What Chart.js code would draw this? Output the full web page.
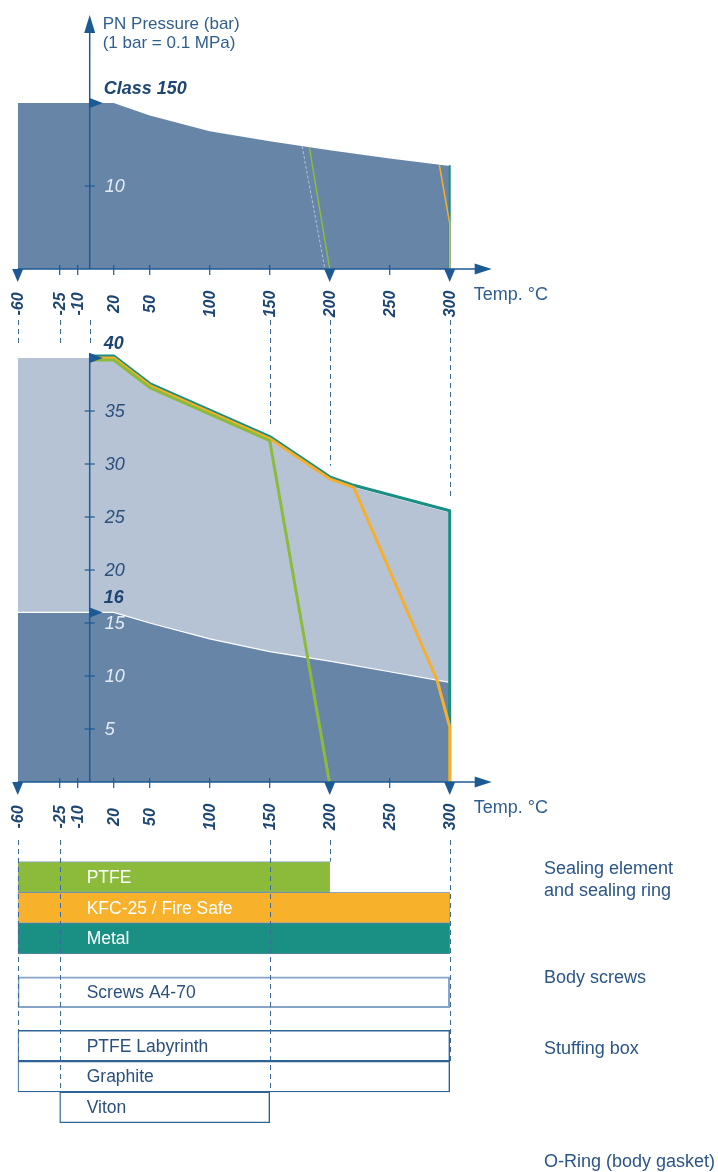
<!DOCTYPE html>
<html>
<head>
<meta charset="utf-8">
<script src="https://cdn.jsdelivr.net/npm/chart.js@4.4.1/dist/chart.umd.min.js"></script>
<style>
  html, body { margin: 0; padding: 0; background: #ffffff; }
  #wrap { position: relative; width: 718px; height: 1172px; overflow: hidden; }
  #c { position: absolute; left: 0; top: 0; }
  .grp { position: absolute; left: 544px; font-family: "Liberation Sans", Arial, sans-serif;
         font-size: 18px; line-height: 22px; color: #2b5587; white-space: nowrap; }
</style>
</head>
<body>
<div id="wrap">
  <canvas id="c" width="718" height="1172"></canvas>
  <div class="grp" id="g0" style="top:857px"></div>
  <div class="grp" id="g1" style="top:966px"></div>
  <div class="grp" id="g2" style="top:1037px"></div>
  <div class="grp" id="g3" style="top:1150px"></div>
</div>
<script>
// ---------------- DATA ----------------
const tempTicks   = [-60, -25, -10, 20, 50, 100, 150, 200, 250, 300];
const markedTemps = [-60, 200, 300];

// Class 150 rating (top chart)
const class150Temp = [-60, 20, 50, 100, 150, 200, 250, 300];
const class150Bar  = [20, 20, 18.5, 16.6, 15.4, 14.3, 13.3, 12.4];
const c150PtfeTemp  = [183, 200];
const c150PtfeBar   = [14.7, 0];
const c150GhostTemp = [177, 196];
const c150GhostBar  = [14.8, 0];
const c150KfcTemp   = [291.4, 300, 300];
const c150KfcBar    = [12.5, 5.5, 0];
const c150MetalTemp = [300, 300];
const c150MetalBar  = [12.4, 0];

// PN40 / PN16 ratings (middle chart)
const pn40Temp = [-60, 20, 50, 100, 150, 200, 220, 300];
const pn40Bar  = [40, 40, 37.4, 34.9, 32.4, 28.6, 27.8, 25.4];
const pn16Temp = [-60, 20, 50, 100, 150, 200, 250, 300];
const pn16Bar  = [16, 16, 15.0, 13.5, 12.3, 11.4, 10.4, 9.4];
const metalTemp = [0, 20, 50, 100, 150, 200, 220, 300, 300];
const metalBar  = [40, 40, 37.4, 34.9, 32.4, 28.6, 27.8, 25.4, 0];
const kfcTemp   = [0, 20, 50, 100, 150, 200, 220, 289.5, 300, 300];
const kfcBar    = [40, 40, 37.4, 34.9, 32.4, 28.6, 27.8, 9.6, 5.2, 0];
const ptfeTemp  = [0, 20, 50, 100, 150, 200];
const ptfeBar   = [40, 40, 37.4, 34.9, 32.4, 0];

const yTicksTop = [10];
const yTicksMid = [5, 10, 15, 20, 25, 30, 35];
const topMarker = { label: 'Class 150', value: 20 };
const midMarkers = [{ label: '40', value: 40 }, { label: '16', value: 16 }];

// Material temperature ranges (bottom)
const materials     = ['PTFE', 'KFC-25 / Fire Safe', 'Metal', 'Screws A4-70', 'PTFE Labyrinth', 'Graphite', 'Viton'];
const materialGroup = [0, 0, 0, 1, 2, 2, 2];
const materialFrom  = [-60, -60, -60, -60, -60, -60, -25];
const materialTo    = [200, 300, 300, 300, 300, 300, 150];
const groupNames    = ['Sealing element<br>and sealing ring', 'Body screws', 'Stuffing box', 'O-Ring (body gasket)'];

// ---------------- LAYOUT / STYLE ----------------
const W = 718, H = 1172;
const X_MIN = -60, X_MAX = 335, PX_PER_DEG = 1.2, PLOT_LEFT = 17.7;
const TOP_ZERO = 269, TOP_PX = 8.3;
const MID_ZERO = 782, MID_PX = 10.6;
const ROW_CENTER = 877, ROW_PX = 30.8, GROUP_GAP = 0.74;

const C_DARK = '#6785a7', C_LIGHT = '#b6c3d5';
const C_GREEN = '#8cbb3c', C_ORANGE = '#f6ae2d', C_TEAL = '#1b8e85';
const C_AXIS = '#1b5a93', C_NAVY = '#1d4673', C_TEXT = '#2f5f8f', C_GUIDE = '#3a6a9a';
const FONT = '"Liberation Sans", Arial, Helvetica, sans-serif';

groupNames.forEach((g, i) => { document.getElementById('g' + i).innerHTML = g; });

const pts = (t, v) => t.map((x, i) => ({ x: x, y: v[i] }));
const yRange = (zeroPx, px) => ({ min: (zeroPx - H) / px, max: zeroPx / px });
const valueAt = (ts, vs, t) => {
  for (let i = 0; i < ts.length - 1; i++) {
    if (t >= ts[i] && t <= ts[i + 1]) {
      if (ts[i + 1] === ts[i]) return vs[i];
      return vs[i] + (vs[i + 1] - vs[i]) * (t - ts[i]) / (ts[i + 1] - ts[i]);
    }
  }
  return vs[vs.length - 1];
};
const rowPos = materials.map((m, i) => i + materialGroup[i] * GROUP_GAP);

const lineDs = (data, yAxisID, color, width, order, extra) => Object.assign({
  type: 'line', data: data, xAxisID: 'x', yAxisID: yAxisID, borderColor: color,
  borderWidth: width, fill: false, pointRadius: 0, tension: 0, order: order,
  borderJoinStyle: 'round'
}, extra || {});

const datasets = [
  // areas
  lineDs(pts(class150Temp, class150Bar), 'yTop', 'rgba(0,0,0,0)', 1, 40, { fill: 'origin', backgroundColor: C_DARK }),
  lineDs(pts(pn40Temp, pn40Bar), 'yMid', 'rgba(0,0,0,0)', 1, 41, { fill: 'origin', backgroundColor: C_LIGHT }),
  lineDs(pts(pn16Temp, pn16Bar), 'yMid', '#ffffff', 1.2, 39, { fill: 'origin', backgroundColor: C_DARK }),
  // top chart limit lines
  lineDs(pts(c150GhostTemp, c150GhostBar), 'yTop', 'rgba(255,255,255,0.5)', 1, 12, { borderDash: [3, 2] }),
  lineDs(pts(c150MetalTemp, c150MetalBar), 'yTop', C_TEAL, 2, 11),
  lineDs(pts(c150KfcTemp, c150KfcBar), 'yTop', C_ORANGE, 1.5, 10),
  lineDs(pts(c150PtfeTemp, c150PtfeBar), 'yTop', C_GREEN, 1.5, 9),
  // middle chart limit lines
  lineDs(pts(metalTemp, metalBar), 'yMid', C_TEAL, 3, 5, { yShift: -2 }),
  lineDs(pts(kfcTemp, kfcBar), 'yMid', C_ORANGE, 3, 4, { yShift: 0 }),
  lineDs(pts(ptfeTemp, ptfeBar), 'yMid', C_GREEN, 3, 3, { yShift: 2 }),
  // material bars
  {
    type: 'bar', indexAxis: 'y', xAxisID: 'x', yAxisID: 'yBar', order: 50, grouped: false,
    data: materials.map((m, i) => ({ y: rowPos[i], x: [materialFrom[i], materialTo[i]] })),
    backgroundColor: [C_GREEN, '#f8b12a', '#1a8f84', '#ffffff', '#ffffff', '#ffffff', '#ffffff'],
    borderColor: ['rgba(50,95,140,0.55)', 'rgba(50,95,140,0.55)', 'rgba(30,80,130,0.7)', '#86a4c5', '#2d6397', '#2d6397', '#2d6397'],
    borderWidth: [1, 1, 1, 2, 1.4, 1.4, 1.4],
    borderSkipped: false, barThickness: ROW_PX
  }
];

const topR = yRange(TOP_ZERO, TOP_PX), midR = yRange(MID_ZERO, MID_PX);
const barMin = -ROW_CENTER / ROW_PX, barMax = (H - ROW_CENTER) / ROW_PX;

function triangle(ctx, p) {
  ctx.beginPath(); ctx.moveTo(p[0], p[1]); ctx.lineTo(p[2], p[3]); ctx.lineTo(p[4], p[5]); ctx.closePath(); ctx.fill();
}

const shiftPlugin = {
  id: 'shift',
  beforeDatasetDraw(chart, args) {
    const s = chart.data.datasets[args.index].yShift;
    if (s) { chart.ctx.save(); chart.ctx.translate(0, s); args.meta.$shifted = true; }
  },
  afterDatasetDraw(chart, args) {
    if (args.meta.$shifted) { chart.ctx.restore(); args.meta.$shifted = false; }
  }
};

const decoPlugin = {
  id: 'deco',
  afterDatasetsDraw(chart) {
    const ctx = chart.ctx;
    const xs = chart.scales.x, yT = chart.scales.yTop, yM = chart.scales.yMid, yB = chart.scales.yBar;
    const X = v => xs.getPixelForValue(v);
    const x0 = X(0);
    ctx.save();

    // ---- dashed guide lines ----
    ctx.strokeStyle = C_GUIDE; ctx.lineWidth = 1; ctx.setLineDash([5, 4]);
    const upperGuides = [-60, -25, 0, 150, 200, 300];
    upperGuides.forEach(t => {
      const yEnd = yM.getPixelForValue(valueAt(pn40Temp, pn40Bar, t)) - 13;
      ctx.beginPath(); ctx.moveTo(Math.round(X(t)) + 0.5, 320); ctx.lineTo(Math.round(X(t)) + 0.5, yEnd); ctx.stroke();
    });
    const lowerGuides = [-60, -25, 150, 200, 300];
    lowerGuides.forEach(t => {
      let idx = -1;
      materials.forEach((m, i) => { if (materialFrom[i] === t || materialTo[i] === t) idx = i; });
      const yEnd = yB.getPixelForValue(rowPos[idx]) - ROW_PX / 2;
      ctx.beginPath(); ctx.moveTo(Math.round(X(t)) + 0.5, 840); ctx.lineTo(Math.round(X(t)) + 0.5, yEnd); ctx.stroke();
    });
    ctx.setLineDash([]);

    // ---- x axes ----
    function xAxis(y0) {
      const xEnd = X(X_MAX);
      ctx.strokeStyle = C_AXIS; ctx.fillStyle = C_AXIS; ctx.lineWidth = 1.5;
      ctx.beginPath(); ctx.moveTo(X(X_MIN), y0); ctx.lineTo(xEnd - 14, y0); ctx.stroke();
      triangle(ctx, [xEnd - 17, y0 - 5.5, xEnd, y0, xEnd - 17, y0 + 5.5]);
      ctx.lineWidth = 1.2;
      tempTicks.forEach(t => {
        const px = X(t);
        if (markedTemps.includes(t)) {
          triangle(ctx, [px - 5.5, y0, px + 5.5, y0, px, y0 + 13]);
        } else {
          ctx.beginPath(); ctx.moveTo(px, y0 - 4); ctx.lineTo(px, y0 + 6); ctx.stroke();
        }
        ctx.save();
        ctx.translate(px, y0 + 35); ctx.rotate(-Math.PI / 2);
        ctx.fillStyle = C_NAVY; ctx.font = 'italic bold 16px ' + FONT;
        ctx.textAlign = 'center'; ctx.textBaseline = 'middle';
        ctx.fillText(String(t), 0, 1);
        ctx.restore();
      });
      ctx.fillStyle = C_TEXT; ctx.font = '18px ' + FONT; ctx.textAlign = 'left'; ctx.textBaseline = 'middle';
      ctx.fillText('Temp. °C', X(320), y0 + 26);
    }
    xAxis(yT.getPixelForValue(0));
    xAxis(yM.getPixelForValue(0));

    // ---- top y axis ----
    const yT0 = yT.getPixelForValue(0);
    ctx.strokeStyle = C_AXIS; ctx.fillStyle = C_AXIS; ctx.lineWidth = 1.5;
    ctx.beginPath(); ctx.moveTo(x0, yT0); ctx.lineTo(x0, 30); ctx.stroke();
    triangle(ctx, [x0 - 5.5, 33, x0, 15, x0 + 5.5, 33]);
    ctx.fillStyle = C_TEXT; ctx.font = '17px ' + FONT; ctx.textAlign = 'left'; ctx.textBaseline = 'middle';
    ctx.fillText('PN Pressure (bar)', x0 + 13, 24);
    ctx.fillText('(1 bar = 0.1 MPa)', x0 + 13, 43);

    function yTicks(scale, ticks, lightBelow) {
      ticks.forEach(v => {
        const py = scale.getPixelForValue(v);
        ctx.strokeStyle = C_AXIS; ctx.lineWidth = 1.2;
        ctx.beginPath(); ctx.moveTo(x0 - 5, py); ctx.lineTo(x0 + 5, py); ctx.stroke();
        ctx.fillStyle = v <= lightBelow ? '#e4ebf3' : '#2c4f7c';
        ctx.font = 'italic 18px ' + FONT; ctx.textAlign = 'left'; ctx.textBaseline = 'middle';
        ctx.fillText(String(v), x0 + 15, py + 1);
      });
    }
    function marker(scale, m) {
      const py = scale.getPixelForValue(m.value);
      ctx.fillStyle = C_AXIS;
      triangle(ctx, [x0, py - 5, x0 + 13, py, x0, py + 5]);
      ctx.fillStyle = C_NAVY; ctx.font = 'italic bold 18px ' + FONT; ctx.textAlign = 'left'; ctx.textBaseline = 'middle';
      ctx.fillText(m.label, x0 + 14, py - 14);
    }
    yTicks(yT, yTicksTop, valueAt(class150Temp, class150Bar, 0));
    marker(yT, topMarker);

    // ---- middle y axis ----
    const yM0 = yM.getPixelForValue(0);
    ctx.strokeStyle = C_AXIS; ctx.lineWidth = 1.5;
    ctx.beginPath(); ctx.moveTo(x0, yM0); ctx.lineTo(x0, yM.getPixelForValue(40) - 5); ctx.stroke();
    yTicks(yM, yTicksMid, valueAt(pn16Temp, pn16Bar, 0));
    midMarkers.forEach(m => marker(yM, m));

    // ---- material labels ----
    ctx.font = '17.5px ' + FONT; ctx.textAlign = 'left'; ctx.textBaseline = 'middle';
    materials.forEach((m, i) => {
      ctx.fillStyle = i < 3 ? '#ffffff' : '#2a4f7d';
      ctx.fillText(m, X(0) - 3, yB.getPixelForValue(rowPos[i]) + 1);
    });
    ctx.restore();
  }
};

new Chart(document.getElementById('c'), {
  type: 'line',
  data: { datasets: datasets },
  options: {
    responsive: false,
    animation: false,
    events: [],
    layout: { padding: { left: PLOT_LEFT, right: W - PLOT_LEFT - (X_MAX - X_MIN) * PX_PER_DEG, top: 0, bottom: 0 } },
    plugins: { legend: { display: false }, tooltip: { enabled: false } },
    elements: { point: { radius: 0 } },
    scales: {
      x:    { type: 'linear', axis: 'x', min: X_MIN, max: X_MAX, display: false, offset: false, bounds: 'data' },
      yTop: { type: 'linear', axis: 'y', position: 'left', min: topR.min, max: topR.max, display: false, offset: false, bounds: 'data' },
      yMid: { type: 'linear', axis: 'y', position: 'left', min: midR.min, max: midR.max, display: false, offset: false, bounds: 'data' },
      yBar: { type: 'linear', axis: 'y', position: 'left', min: barMin, max: barMax, reverse: true, display: false, offset: false, bounds: 'data' }
    }
  },
  plugins: [shiftPlugin, decoPlugin]
});
</script>
</body>
</html>
